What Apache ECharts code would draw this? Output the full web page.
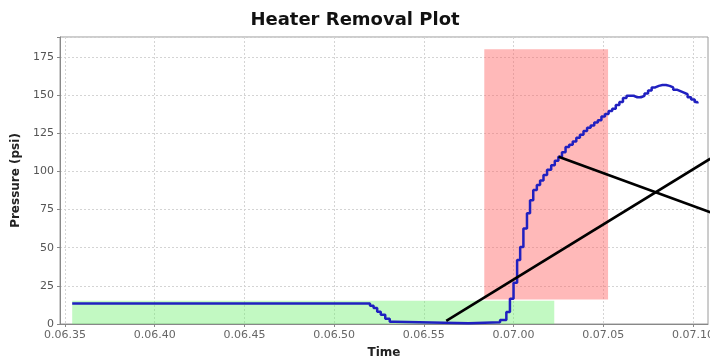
<!DOCTYPE html>
<html>
<head>
<meta charset="utf-8">
<script src="https://cdn.jsdelivr.net/npm/echarts@6/dist/echarts.min.js"></script>
<style>
  html, body { margin: 0; padding: 0; background: #fff; }
  #chart { width: 710px; height: 360px; }
</style>
</head>
<body>
<div id="chart"></div>
<script>
// Time is stored as seconds after 0:00:00
const tickSeconds = [395, 400, 405, 410, 415, 420, 425, 430];
const tickLabels = ['0.06.35', '0.06.40', '0.06.45', '0.06.50', '0.06.55', '0.07.00', '0.07.05', '0.07.10'];
const yTicks = [0, 25, 50, 75, 100, 125, 150, 175];

// Pressure samples (sample-and-hold)
const sampleTime = [
  395.4, 412.0, 412.2, 412.4, 412.6, 412.85, 413.1, 413.35, 417.5,
  419.25, 419.6, 419.8, 420.0, 420.2, 420.37, 420.55, 420.75, 420.92,
  421.1, 421.3, 421.48, 421.67, 421.87, 422.1, 422.3, 422.5, 422.7,
  422.9, 423.1, 423.3, 423.5, 423.7, 423.9, 424.1, 424.3, 424.5,
  424.7, 424.9, 425.1, 425.3, 425.5, 425.7, 425.9, 426.1, 426.3,
  426.5, 426.7, 426.9, 427.1, 427.3, 427.5, 427.7, 427.9, 428.1,
  428.3, 428.5, 428.7, 428.9, 429.1, 429.3, 429.5, 429.7, 429.9,
  430.1, 430.25
];
const pressure = [
  13.5, 12, 10.5, 8, 6, 3.5, 1.5, 0.5, 1.2,
  2.6, 7.8, 16.5, 27, 42, 50.5, 62.5, 72.5, 81,
  87.8, 91, 94, 97.6, 101, 104, 107, 109.6, 112.5,
  116, 117.5, 119.5, 122, 124, 126.5, 128.5, 130, 132,
  133.5, 136, 137.5, 139.5, 141, 143.5, 145.5, 148, 149.5,
  149.5, 148.5, 148.5, 149.5, 151, 153, 155, 156, 156.5,
  156.5, 156, 155, 153.5, 152.5, 151.5, 150.5, 148.5, 147,
  145.5, 144.5
];

// Shaded windows: [startTime, endTime, lowPressure, highPressure]
const lowWindow = [395.4, 422.27, 0, 15.3];
const highWindow = [418.37, 425.27, 16, 180];

// Crossing annotation strokes: [t0, p0, t1, p1]
const strokeA = [416.25, 2, 430.97, 108.3];
const strokeB = [422.51, 109.6, 430.97, 73.2];

const xMin = 394.72, xMax = 430.84;
const yMax = 188;

const fmt = function (v) {
  const i = tickSeconds.indexOf(Math.round(v));
  return i >= 0 ? tickLabels[i] : '';
};

const chart = echarts.init(document.getElementById('chart'), null, { renderer: 'canvas' });
const font = 'DejaVu Sans';
const lineData = sampleTime.map((t, i) => [t, pressure[i]]);

chart.setOption({
  animation: false,
  backgroundColor: '#ffffff',
  title: {
    text: 'Heater Removal Plot',
    left: 'center',
    top: 6,
    textStyle: { fontFamily: font, fontSize: 18, fontWeight: 'bold', color: '#111' }
  },
  grid: {
    left: 60, right: 2, top: 37, bottom: 36,
    outerBoundsMode: 'none',
    containLabel: false,
    show: true, borderColor: '#9a9a9a', borderWidth: 1, backgroundColor: '#ffffff'
  },
  xAxis: {
    type: 'value',
    min: xMin, max: xMax,
    name: 'Time',
    nameLocation: 'middle',
    nameGap: 23,
    nameTextStyle: { fontFamily: font, fontSize: 12, fontWeight: 'bold', color: '#222' },
    axisLine: { show: true, onZero: false, lineStyle: { color: '#888' } },
    axisTick: { show: true, length: 3, customValues: tickSeconds, lineStyle: { color: '#888' } },
    axisLabel: {
      customValues: tickSeconds, formatter: fmt, margin: 6,
      hideOverlap: false,
      fontFamily: font, fontSize: 11, color: '#666'
    },
    splitLine: { show: true, lineStyle: { color: '#d4d4d4', type: [2, 2], width: 1 } }
  },
  yAxis: {
    type: 'value',
    min: 0, max: yMax, interval: 25,
    name: 'Pressure (psi)',
    nameLocation: 'middle',
    nameGap: 34,
    nameTextStyle: { fontFamily: font, fontSize: 12, fontWeight: 'bold', color: '#222' },
    axisLine: { show: true, lineStyle: { color: '#888' } },
    axisTick: { show: true, length: 3, lineStyle: { color: '#888' } },
    axisLabel: {
      margin: 6, fontFamily: font, fontSize: 11, color: '#555',
      formatter: v => (yTicks.indexOf(v) >= 0 ? String(v) : '')
    },
    splitLine: { show: true, lineStyle: { color: '#d4d4d4', type: [2, 2], width: 1 } }
  },
  series: [
    {
      type: 'line',
      name: 'Pressure',
      data: lineData,
      step: 'end',
      showSymbol: false,
      z: 5,
      lineStyle: { color: '#2020c0', width: 2.5 },
      markArea: {
        silent: true,
        data: [
          [
            { coord: [lowWindow[0], lowWindow[2]], itemStyle: { color: 'rgba(110,240,110,0.42)' } },
            { coord: [lowWindow[1], lowWindow[3]] }
          ],
          [
            { coord: [highWindow[0], highWindow[2]], itemStyle: { color: 'rgba(255,100,100,0.45)' } },
            { coord: [highWindow[1], highWindow[3]] }
          ]
        ]
      }
    },
    {
      type: 'line',
      data: [[strokeA[0], strokeA[1]], [strokeA[2], strokeA[3]]],
      showSymbol: false,
      clip: false,
      z: 6,
      lineStyle: { color: '#000', width: 2.6 }
    },
    {
      type: 'line',
      data: [[strokeB[0], strokeB[1]], [strokeB[2], strokeB[3]]],
      showSymbol: false,
      clip: false,
      z: 6,
      lineStyle: { color: '#000', width: 2.6 }
    }
  ]
});
</script>
</body>
</html>
